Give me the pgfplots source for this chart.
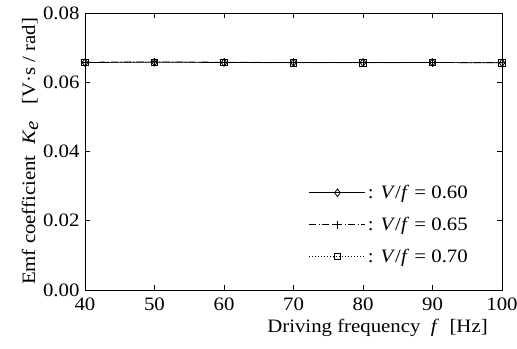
\documentclass[border=0pt]{standalone}
\usepackage{pgfplots}
\pgfplotsset{compat=1.18}
\usepackage{fontspec}
\setmainfont{Liberation Serif}[FakeStretch=1.1]
\begin{document}
\begin{tikzpicture}
\begin{axis}[
  scale only axis,
  width=417bp, height=277bp,
  xmin=40, xmax=100, ymin=0, ymax=0.08,
  xtick={40,50,...,100},
  ytick={0,0.02,...,0.08},
  yticklabel style={/pgf/number format/fixed, /pgf/number format/fixed zerofill, /pgf/number format/precision=2},
  scaled y ticks=false,
  /pgf/number format/assume math mode=true,
  tick align=inside,
  tick style={black, line width=0.6pt},
  major tick length=5bp,
  axis line style={line width=0.8pt},
  font=\fontsize{19}{22}\selectfont,
  xticklabel style={yshift=-4bp},
  yticklabel style={xshift=-2bp},
  xlabel={Driving frequency \ \textit{f} \ [Hz]},
  ylabel={Emf coefficient \ \textit{K}$_{\textit{e}}$ \ \ [V·s / rad]},
  xlabel style={yshift=-2bp, xshift=84bp},
  ylabel style={yshift=-2bp},
  legend style={draw=none, fill=none, at={(1,0)}, anchor=south east, xshift=-30bp, yshift=22bp, font=\fontsize{19}{22}\selectfont, row sep=13bp, inner sep=2bp},
  legend cell align=left,
  legend image code/.code={\draw[mark repeat=2,mark phase=2] plot coordinates {(0bp,0bp) (28bp,0bp) (56bp,0bp)};},
]
\addplot[black, solid, line width=0.7pt, mark=diamond, mark options={solid, scale=1.9, line width=0.8pt}]
  coordinates {(40,0.0657) (50,0.0658) (60,0.0657) (70,0.0657) (80,0.0657) (90,0.0657) (100,0.0656)};
\addlegendentry{: \textit{V}/\textit{f} = 0.60}
\addplot[black, dash pattern=on 7pt off 2.5pt on 1pt off 2.5pt, line width=0.7pt, mark=+, mark options={solid, scale=2, line width=0.8pt}]
  coordinates {(40,0.0658) (50,0.0659) (60,0.0658) (70,0.0657) (80,0.0657) (90,0.0657) (100,0.0657)};
\addlegendentry{: \textit{V}/\textit{f} = 0.65}
\addplot[black, dash pattern=on 1pt off 2pt, line width=0.7pt, mark=square, mark options={solid, scale=1.6, line width=0.8pt}]
  coordinates {(40,0.0657) (50,0.0658) (60,0.0657) (70,0.0656) (80,0.0656) (90,0.0657) (100,0.0656)};
\addlegendentry{: \textit{V}/\textit{f} = 0.70}
\end{axis}
\pgfresetboundingbox
\path[use as bounding box] (-85bp,-59bp) rectangle (432bp,290bp);
\end{tikzpicture}
\end{document}
